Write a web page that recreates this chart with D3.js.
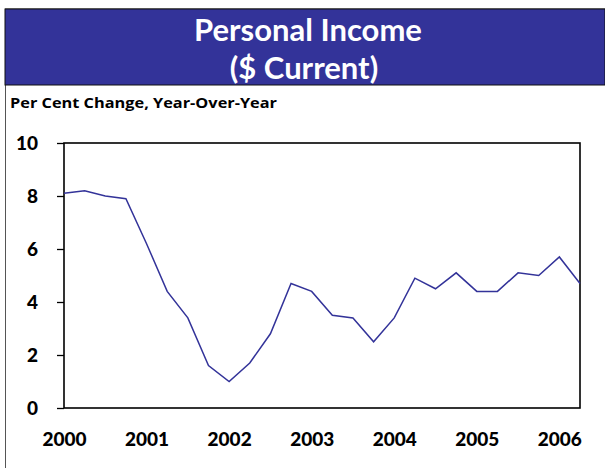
<!DOCTYPE html>
<meta charset="utf-8">
<style>
body{margin:0;background:#fff;}
text{font-family:Lato,"Open Sans",sans-serif;font-weight:bold;}
.title{fill:#fff;font-size:31px;text-anchor:middle;}
.sub{font-family:"Open Sans",Lato,sans-serif;font-size:14px;font-weight:bold;}
.tick text{font-size:19px;fill:#000;font-weight:900;}
</style>
<body>
<script src="https://d3js.org/d3.v7.min.js"></script>
<script>

var years = ["2000","2001","2002","2003","2004","2005","2006"];
// quarterly, 2000Q1 .. 2006Q2
var quarters = ["2000Q1","2000Q2","2000Q3","2000Q4","2001Q1","2001Q2","2001Q3","2001Q4",
 "2002Q1","2002Q2","2002Q3","2002Q4","2003Q1","2003Q2","2003Q3","2003Q4",
 "2004Q1","2004Q2","2004Q3","2004Q4","2005Q1","2005Q2","2005Q3","2005Q4","2006Q1","2006Q2"];
var income = [8.1,8.2,8.0,7.9,6.2,4.4,3.4,1.6, 1.0,1.7,2.8,4.7,4.4,3.5,3.4,2.5,
 3.4,4.9,4.5,5.1,4.4,4.4,5.1,5.0,5.7,4.7];
var yTicks = [0,2,4,6,8,10];

var W = 605, H = 468;
var svg = d3.select("body").append("svg").attr("width",W).attr("height",H);

// outer frame + header band
svg.append("line").attr("x1",5.5).attr("x2",5.5).attr("y1",9).attr("y2",H).attr("stroke","#555").attr("stroke-width",1);
svg.append("line").attr("x1",5).attr("x2",W).attr("y1",8.5).attr("y2",8.5).attr("stroke","#999").attr("stroke-width",1);
svg.append("rect").attr("x",5).attr("y",9).attr("width",W-5).attr("height",76)
	.attr("fill","#333399").attr("stroke","#111").attr("stroke-width",1);

svg.append("text").attr("class","title").attr("x",308).attr("y",41).text("Personal Income");
svg.append("text").attr("class","title").attr("x",304).attr("y",79).text("($ Current)");
svg.append("text").attr("class","sub").attr("x",10).attr("y",108)
	.attr("textLength",267).attr("lengthAdjust","spacingAndGlyphs").text("Per Cent Change, Year-Over-Year");

var pLeft = 64, pRight = 580, pTop = 143, pBottom = 408;

var x = d3.scaleLinear().domain([0, quarters.length-1]).range([pLeft,pRight]);
var y = d3.scaleLinear().domain([0,10]).range([pBottom,pTop]);

// y axis
var yAx = svg.append("g").attr("transform","translate("+pLeft+",0)")
	.call(d3.axisLeft(y).tickValues(yTicks).tickSize(7).tickPadding(19).tickFormat(d3.format("d")));
yAx.select(".domain").remove();
yAx.selectAll(".tick line").attr("stroke","#000").attr("stroke-width",1.3);

// x axis labels at Q1 of every year
var xAx = svg.append("g").attr("transform","translate(0,"+pBottom+")")
	.call(d3.axisBottom(x).tickValues(years.map(function(d,i){return i*4;}))
		.tickSize(0).tickPadding(25).tickFormat(function(d){return years[d/4];}));
xAx.select(".domain").remove();

// plot frame
svg.append("rect").attr("x",pLeft).attr("y",pTop).attr("width",pRight-pLeft).attr("height",pBottom-pTop)
	.attr("fill","none").attr("stroke","#000").attr("stroke-width",1.6);

var line = d3.line().x(function(d,i){return x(i);}).y(function(d){return y(d);});
svg.append("path").datum(income).attr("d",line)
	.attr("fill","none").attr("stroke","#333399").attr("stroke-width",1.5);

</script>
</body>
